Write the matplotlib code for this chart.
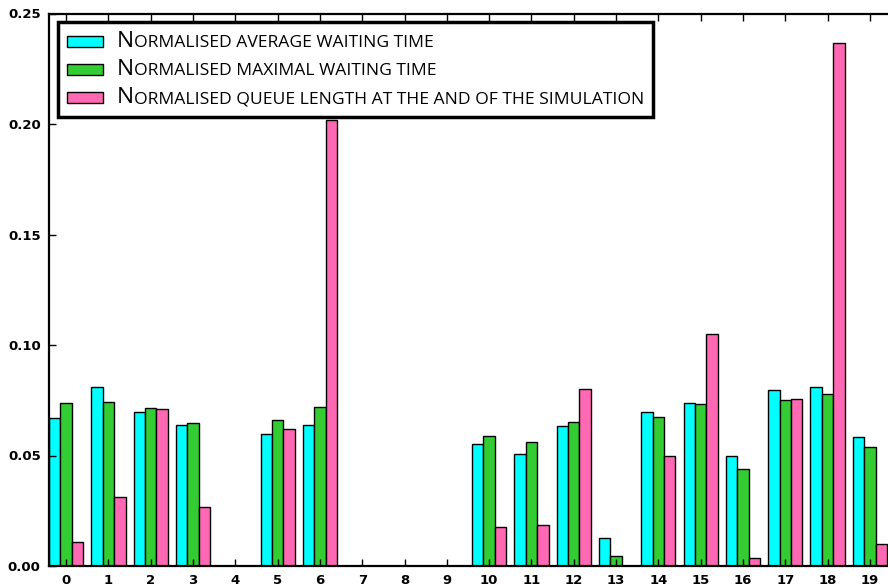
import numpy as np
import matplotlib
matplotlib.use("Agg")
import matplotlib.pyplot as plt
from matplotlib.offsetbox import AnchoredOffsetbox, HPacker, VPacker, TextArea, DrawingArea
from matplotlib.patches import Rectangle

# Normalised per-queue statistics
queues = list(range(20))
avg_wait = [0.0671, 0.0810, 0.0697, 0.0637, 0.0, 0.0597, 0.0637, 0.0, 0.0, 0.0,
            0.0552, 0.0508, 0.0632, 0.0125, 0.0695, 0.0736, 0.0496, 0.0795, 0.0810, 0.0582]
max_wait = [0.0736, 0.0741, 0.0716, 0.0648, 0.0, 0.0661, 0.0719, 0.0, 0.0, 0.0,
            0.0587, 0.0562, 0.0652, 0.0047, 0.0676, 0.0732, 0.0439, 0.0750, 0.0780, 0.0537]
queue_len = [0.0107, 0.0311, 0.0710, 0.0267, 0.0, 0.0621, 0.2018, 0.0, 0.0, 0.0,
             0.0176, 0.0186, 0.0800, 0.0, 0.0498, 0.1048, 0.0036, 0.0754, 0.2365, 0.0098]
series_labels = ["Normalised average waiting time",
                 "Normalised maximal waiting time",
                 "Normalised queue length at the and of the simulation"]
series_colors = ["#00ffff", "#33cc33", "#ff69b4"]
yticks = [0.00, 0.05, 0.10, 0.15, 0.20, 0.25]

fig = plt.figure(figsize=(8.88, 5.88), dpi=100)
ax = fig.add_axes([49 / 888, 22 / 588, 846 / 888, 552.5 / 588])

x = np.arange(len(queues))
width = 0.27
for k, (vals, col) in enumerate(zip([avg_wait, max_wait, queue_len], series_colors)):
    ax.bar(x + k * width, vals, width, align="edge", color=col,
           edgecolor="black", linewidth=1.0)

ax.set_xlim(0, 20)
ax.set_ylim(0, 0.25)
ax.set_xticks(x + 1.5 * width)
ax.set_xticklabels([str(q) for q in queues])
ax.set_yticks(yticks)
ax.set_yticklabels(["%.2f" % v for v in yticks])
ax.tick_params(direction="in", top=True, right=True, length=5, width=1,
               labelsize=9.5)
ax.tick_params(axis="x", pad=6)
ax.tick_params(axis="y", pad=6)
for lab in ax.get_xticklabels() + ax.get_yticklabels():
    lab.set_fontweight("bold")
for sp in ax.spines.values():
    sp.set_linewidth(1.6)

# Legend with small-caps style labels
legend_font = "Open Sans"
rows = []
for label, col in zip(series_labels, series_colors):
    da = DrawingArea(26, 8, 0, 0)
    da.add_artist(Rectangle((0, 0), 26, 8, facecolor=col, edgecolor="black", linewidth=1))
    big = TextArea(label[0].upper(), textprops=dict(fontsize=16.2, family=legend_font))
    small = TextArea(label[1:].upper(), textprops=dict(fontsize=12.6, family=legend_font))
    txt = HPacker(children=[big, small], align="baseline", pad=0, sep=0)
    rows.append(HPacker(children=[da, txt], align="center", pad=0, sep=10))
box = VPacker(children=rows, align="left", pad=0, sep=5.3)
leg = AnchoredOffsetbox(loc="upper left", child=box, pad=0.62, borderpad=0,
                        frameon=True, bbox_to_anchor=(9 / 846, 544 / 552.5),
                        bbox_transform=ax.transAxes, prop=dict(size=10))
leg.patch.set_boxstyle("square", pad=0)
leg.patch.set_linewidth(2.5)
leg.patch.set_edgecolor("black")
ax.add_artist(leg)

fig.savefig("out.png", dpi=100)
